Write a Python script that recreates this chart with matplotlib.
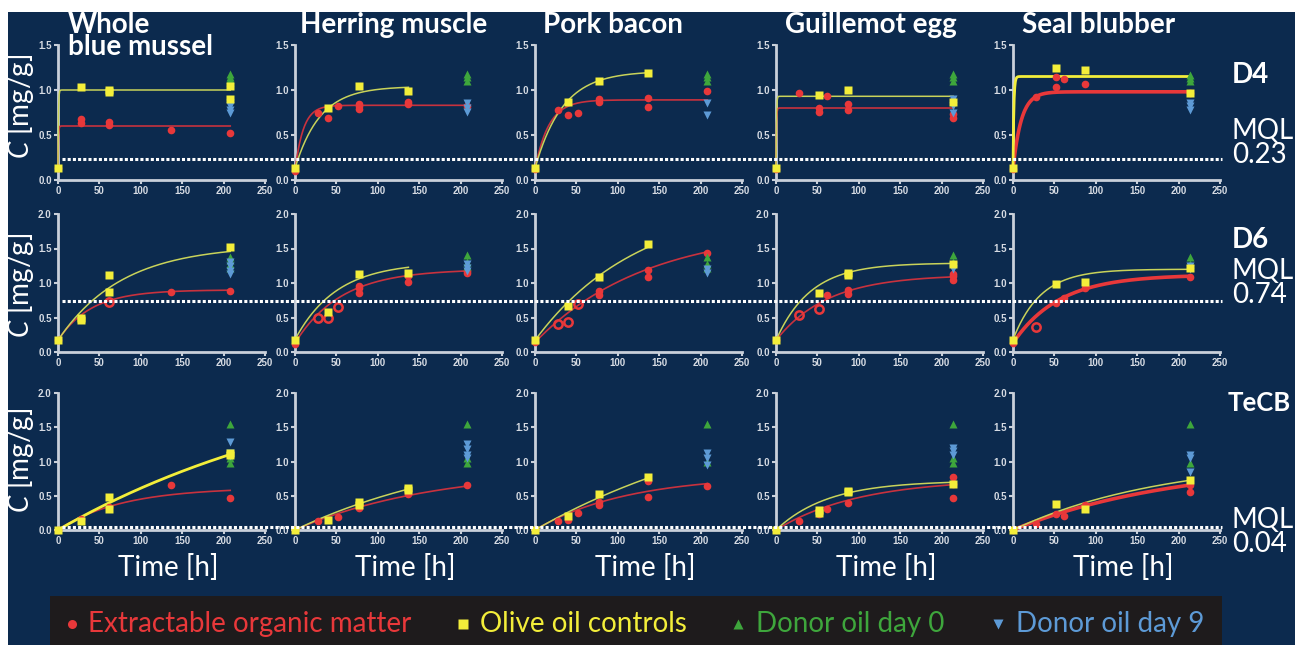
import numpy as np
import matplotlib
matplotlib.use("Agg")
import matplotlib.pyplot as plt
import matplotlib.transforms as mtransforms
from matplotlib.lines import Line2D
from matplotlib.patches import Rectangle

W, H = 1295, 645

columns = ["Whole\nblue mussel", "Herring muscle", "Pork bacon", "Guillemot egg", "Seal blubber"]
compounds = ["D4", "D6", "TeCB"]
mql = [0.23, 0.74, 0.04]
y_tops = [1.5, 2.0, 2.0]
donor_time = [208, 208, 208, 214, 214]

# (time h, concentration mg/g) per column, one list per compound
d4_eom = [
    [(0, 0.13), (28, 0.68), (28, 0.63), (62, 0.64), (62, 0.61), (137, 0.56), (208, 0.52)],
    [(0, 0.10), (28, 0.75), (40, 0.69), (52, 0.82), (77, 0.85), (77, 0.82), (77, 0.79), (137, 0.87), (137, 0.85), (208, 0.82)],
    [(0, 0.12), (28, 0.78), (40, 0.72), (52, 0.74), (77, 0.90), (77, 0.87), (137, 0.91), (137, 0.81), (208, 0.99)],
    [(0, 0.12), (28, 0.97), (52, 0.80), (52, 0.76), (62, 0.93), (87, 0.84), (87, 0.78), (214, 0.73), (214, 0.69)],
    [(0, 0.12), (28, 0.92), (52, 1.14), (52, 1.03), (62, 1.12), (87, 1.07), (214, 0.97)],
]
d6_eom = [
    [(0, 0.17), (28, 0.50), (137, 0.87), (208, 0.88)],
    [(0, 0.12), (77, 0.93), (77, 0.86), (77, 0.96), (137, 1.10), (137, 1.02), (208, 1.15), (208, 1.17)],
    [(0, 0.14), (77, 0.89), (77, 0.83), (137, 1.19), (137, 1.09), (208, 1.43)],
    [(0, 0.17), (62, 0.83), (87, 0.90), (87, 0.84), (214, 1.10), (214, 1.05), (214, 1.13)],
    [(0, 0.13), (52, 0.71), (62, 0.78), (87, 0.93), (214, 1.09)],
]
tecb_eom = [
    [(0, 0.0), (28, 0.16), (62, 0.34), (137, 0.65), (208, 0.46)],
    [(0, 0.0), (28, 0.13), (52, 0.19), (77, 0.32), (137, 0.52), (208, 0.65)],
    [(0, 0.0), (28, 0.13), (40, 0.14), (52, 0.25), (77, 0.37), (77, 0.41), (137, 0.71), (137, 0.48), (208, 0.64)],
    [(0, 0.0), (28, 0.13), (52, 0.23), (62, 0.30), (87, 0.40), (214, 0.77), (214, 0.67), (214, 0.46)],
    [(0, 0.0), (28, 0.09), (52, 0.24), (62, 0.21), (87, 0.37), (214, 0.55), (214, 0.65)],
]
# open (hollow) EOM circles
d4_eom_open = [[], [], [], [], []]
d6_eom_open = [
    [(62, 0.72)],
    [(28, 0.50), (40, 0.50), (52, 0.65)],
    [(28, 0.40), (40, 0.44), (52, 0.70)],
    [(28, 0.54), (52, 0.62)],
    [(28, 0.36)],
]
tecb_eom_open = [[], [], [], [], []]

d4_olive = [
    [(0, 0.13), (28, 1.03), (62, 1.00), (62, 0.98), (208, 1.05), (208, 0.90)],
    [(0, 0.13), (40, 0.80), (77, 1.05), (137, 0.99)],
    [(0, 0.13), (40, 0.87), (77, 1.10), (137, 1.19)],
    [(0, 0.13), (52, 0.95), (87, 1.00), (214, 0.87)],
    [(0, 0.13), (52, 1.24), (87, 1.22), (214, 0.97)],
]
d6_olive = [
    [(0, 0.17), (28, 0.50), (28, 0.47), (62, 1.12), (62, 0.87), (208, 1.52)],
    [(0, 0.18), (40, 0.58), (77, 1.13), (137, 1.15)],
    [(0, 0.17), (40, 0.67), (77, 1.09), (137, 1.56)],
    [(0, 0.17), (52, 0.85), (87, 1.14), (87, 1.12), (214, 1.27)],
    [(0, 0.18), (52, 0.98), (87, 1.02), (214, 1.22)],
]
tecb_olive = [
    [(0, 0.0), (28, 0.13), (62, 0.48), (62, 0.31), (208, 1.12), (208, 1.10)],
    [(0, 0.0), (40, 0.15), (77, 0.41), (77, 0.36), (137, 0.61), (137, 0.58)],
    [(0, 0.0), (40, 0.20), (77, 0.52), (137, 0.77)],
    [(0, 0.0), (52, 0.29), (52, 0.25), (87, 0.57), (87, 0.55), (214, 0.67)],
    [(0, 0.0), (52, 0.38), (87, 0.31), (214, 0.73)],
]

d4_day0 = [[1.18, 1.15, 1.12, 1.09], [1.18, 1.14, 1.10], [1.18, 1.14, 1.10], [1.18, 1.14, 1.10], [1.17, 1.13, 1.10]]
d6_day0 = [[1.38, 1.33, 1.28, 1.22], [1.40, 1.30, 1.25], [1.38, 1.28, 1.22], [1.40, 1.30], [1.38, 1.28]]
tecb_day0 = [[1.55, 1.05, 0.98], [1.55, 1.05, 0.98], [1.55, 1.00], [1.55, 1.05, 0.98], [1.55, 0.98]]

d4_day9 = [[0.86, 0.82, 0.78, 0.75], [0.86, 0.80, 0.76], [0.86, 0.72], [0.90, 0.82, 0.74], [0.86, 0.82, 0.78]]
d6_day9 = [[1.30, 1.25, 1.18, 1.13], [1.27, 1.22, 1.18], [1.20, 1.15], [1.25, 1.20], [1.25, 1.20]]
tecb_day9 = [[1.28, 1.13, 1.08], [1.25, 1.18, 1.10, 1.05], [1.12, 1.05, 0.95], [1.20, 1.15, 1.10], [1.10, 1.05, 0.85]]

# first-order uptake fits: (start, plateau, rate 1/h, last hour)
d4_eom_fit = [(0.13, 0.60, 2.0, 208), (0.10, 0.83, 0.10, 208), (0.12, 0.89, 0.06, 208), (0.12, 0.80, 2.0, 214), (0.12, 0.98, 0.10, 214)]
d6_eom_fit = [(0.17, 0.90, 0.025, 208), (0.13, 1.20, 0.018, 208), (0.14, 1.80, 0.0075, 208), (0.17, 1.12, 0.016, 214), (0.13, 1.12, 0.018, 214)]
tecb_eom_fit = [(0.0, 0.62, 0.013, 208), (0.0, 0.90, 0.006, 208), (0.0, 0.80, 0.009, 208), (0.0, 0.75, 0.010, 214), (0.0, 1.00, 0.005, 214)]
d4_olive_fit = [(0.13, 1.00, 2.0, 208), (0.13, 1.04, 0.033, 137), (0.13, 1.21, 0.030, 137), (0.13, 0.93, 2.0, 214), (0.13, 1.15, 1.0, 214)]
d6_olive_fit = [(0.17, 1.55, 0.013, 208), (0.18, 1.30, 0.020, 137), (0.17, 2.20, 0.008, 137), (0.17, 1.29, 0.024, 214), (0.18, 1.20, 0.030, 214)]
tecb_olive_fit = [(0.0, 2.50, 0.0028, 208), (0.0, 1.30, 0.0045, 137), (0.0, 2.00, 0.0035, 137), (0.0, 0.72, 0.016, 214), (0.0, 1.05, 0.0055, 214)]

eom_rows = [d4_eom, d6_eom, tecb_eom]
eom_open_rows = [d4_eom_open, d6_eom_open, tecb_eom_open]
olive_rows = [d4_olive, d6_olive, tecb_olive]
day0_rows = [d4_day0, d6_day0, tecb_day0]
day9_rows = [d4_day9, d6_day9, tecb_day9]
eom_fit_rows = [d4_eom_fit, d6_eom_fit, tecb_eom_fit]
olive_fit_rows = [d4_olive_fit, d6_olive_fit, tecb_olive_fit]

BG = "#0c2a4e"
RED = "#e8383a"
YELLOW = "#f3ee3a"
GREEN = "#3ea63c"
BLUE = "#5d9ad6"
AXIS = "#c9d0da"
FONT = "Lato"

plt.rcParams["mathtext.fontset"] = "custom"
plt.rcParams["mathtext.it"] = "Lato:italic"
plt.rcParams["mathtext.rm"] = "Lato"

fig = plt.figure(figsize=(W / 100, H / 100), dpi=100, facecolor="white")
fig.add_artist(Rectangle((8 / W, 0), 1 - 8 / W, 1 - 12 / H, transform=fig.transFigure,
                         facecolor=BG, edgecolor="none", zorder=-10))

col_x = [58, 295, 535, 776, 1013]
row_top = [45, 214, 393]
row_bot = [180, 352, 530]
panel_w = 207


def fit_curve(params):
    c0, plateau, k, tend = params
    t = np.linspace(0, tend, 300)
    return t, c0 + (plateau - c0) * (1 - np.exp(-k * t))


axes = [[None] * 5 for _ in range(3)]
for r in range(3):
    for c in range(5):
        ax = fig.add_axes([col_x[c] / W, 1 - row_bot[r] / H, panel_w / W, (row_bot[r] - row_top[r]) / H])
        axes[r][c] = ax
        ax.set_facecolor("none")
        ax.set_xlim(0, 250)
        ax.set_ylim(0, y_tops[r])
        ax.set_xticks(np.arange(0, 251, 50))
        ax.set_yticks(np.arange(0, y_tops[r] + 0.01, 0.5))
        ax.yaxis.set_major_formatter(matplotlib.ticker.FormatStrFormatter("%.1f"))
        for s in ["top", "right"]:
            ax.spines[s].set_visible(False)
        for s in ["left", "bottom"]:
            ax.spines[s].set_color(AXIS)
            ax.spines[s].set_linewidth(2)
        ax.tick_params(colors=AXIS, direction="out", length=3, width=1.5, pad=1.5)
        for lab in ax.get_xticklabels() + ax.get_yticklabels():
            lab.set_fontsize(7)
            lab.set_fontweight("bold")
            lab.set_color("#d6dbe3")
            lab.set_family("Liberation Sans")

        thick = c == 4
        ef = fit_curve(eom_fit_rows[r][c])
        ax.plot(*ef, color=RED if thick else "#c8323e", lw=2.6 if thick else 1.2, zorder=3, clip_on=False)
        of = fit_curve(olive_fit_rows[r][c])
        bright = (r == 0 and c == 4) or (r == 2 and c == 0)
        ax.plot(*of, color=YELLOW if bright else "#c9d35a", lw=2.0 if bright else 1.1, zorder=3, clip_on=False)

        pts = np.array(eom_rows[r][c])
        ax.plot(pts[:, 0], pts[:, 1], "o", color=RED, ms=5.5, mec="none", zorder=4, clip_on=False)
        if eom_open_rows[r][c]:
            op = np.array(eom_open_rows[r][c])
            ax.plot(op[:, 0], op[:, 1], "o", mfc="none", mec=RED, mew=1.8, ms=6, zorder=4, clip_on=False)
        td = donor_time[c]
        ax.plot([td] * len(day0_rows[r][c]), day0_rows[r][c], "^", color=GREEN, ms=5.5, mec="none", zorder=4, clip_on=False)
        ax.plot([td] * len(day9_rows[r][c]), day9_rows[r][c], "v", color=BLUE, ms=5.5, mec="none", zorder=4, clip_on=False)
        sq = np.array(olive_rows[r][c])
        ax.plot(sq[:, 0], sq[:, 1], "s", color=YELLOW, ms=5.5, mec="none", zorder=5, clip_on=False)

    # MQL dotted line across the whole row
    blend = mtransforms.blended_transform_factory(fig.transFigure, axes[r][0].transData)
    fig.add_artist(Line2D([62 / W, 1222 / W], [mql[r], mql[r]], transform=blend, color="white",
                          lw=2.2, linestyle=(0, (1.0, 0.7)), zorder=6))

# column titles
title_x = [68, 300, 543, 785, 1022]
for c, name in enumerate(columns):
    fig.text(title_x[c] / W, 1 - 12 / H, name, color="white", fontsize=20, fontweight="bold",
             family=FONT, ha="left", va="top", linespacing=0.82)

# row labels on the right
head_y = [75, 240, 403]
head_size = [20, 20, 18.5]
head_x = [1232, 1232, 1228]
mql_y = [143, 283, 532]
for r in range(3):
    fig.text(head_x[r] / W, 1 - head_y[r] / H, compounds[r], color="white", fontsize=head_size[r],
             fontweight="bold", family=FONT, ha="left", va="center")
    fig.text(1232 / W, 1 - mql_y[r] / H, "MQL\n%.2f" % mql[r], color="white", fontsize=20,
             family=FONT, ha="left", va="center", linespacing=0.9)

# y labels
ylab_y = [106, 285, 460]
for r in range(3):
    fig.text(20 / W, 1 - ylab_y[r] / H, r"$C$ [mg/g]", color="white", fontsize=20, family=FONT,
             rotation=90, ha="center", va="center")

# x labels
for c in range(5):
    fig.text((col_x[c] + 110) / W, 1 - 568 / H, "Time [h]", color="white", fontsize=20,
             family=FONT, ha="center", va="center")

# legend strip
fig.add_artist(Rectangle((50 / W, 0), (1222 - 50) / W, (645 - 596) / H, transform=fig.transFigure,
                         facecolor="#1e1b1c", edgecolor="none", zorder=1))
leg_y = 1 - 624 / H
legend_items = [
    (72, 88, "o", RED, "Extractable organic matter"),
    (463, 480, "s", YELLOW, "Olive oil controls"),
    (738, 756, "^", GREEN, "Donor oil day 0"),
    (998, 1016, "v", BLUE, "Donor oil day 9"),
]
for mx, tx, mk, col, lab in legend_items:
    fig.add_artist(Line2D([mx / W], [leg_y], marker=mk, color=col, ms=6.5, mec="none",
                          transform=fig.transFigure, zorder=2))
    fig.text(tx / W, leg_y, lab, color=col, fontsize=20, family=FONT, ha="left", va="center", zorder=2)

fig.savefig("out.png", dpi=100, facecolor="white")
